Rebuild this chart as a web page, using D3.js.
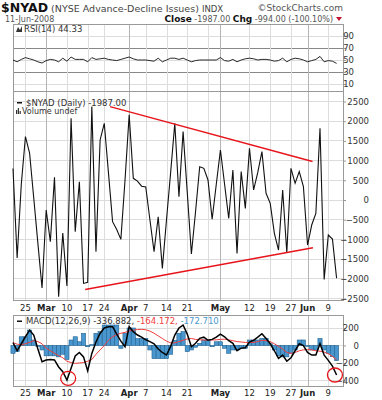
<!DOCTYPE html>
<html><head><meta charset="utf-8">
<script src="https://cdn.jsdelivr.net/npm/d3@7"></script>
<style>body{margin:0;background:#fff}svg{display:block}text{font-family:"DejaVu Sans",Verdana,sans-serif}</style>
</head><body><svg id="c" width="382" height="400"></svg>
<script>
const dates = ["2008-02-20","2008-02-21","2008-02-22","2008-02-25","2008-02-26","2008-02-27","2008-02-28","2008-02-29",
"2008-03-03","2008-03-04","2008-03-05","2008-03-06","2008-03-07","2008-03-10","2008-03-11","2008-03-12","2008-03-13","2008-03-14","2008-03-17","2008-03-18","2008-03-19","2008-03-20","2008-03-24","2008-03-25","2008-03-26","2008-03-27","2008-03-28","2008-03-31",
"2008-04-01","2008-04-02","2008-04-03","2008-04-04","2008-04-07","2008-04-08","2008-04-09","2008-04-10","2008-04-11","2008-04-14","2008-04-15","2008-04-16","2008-04-17","2008-04-18","2008-04-21","2008-04-22","2008-04-23","2008-04-24","2008-04-25","2008-04-28","2008-04-29","2008-04-30",
"2008-05-01","2008-05-02","2008-05-05","2008-05-06","2008-05-07","2008-05-08","2008-05-09","2008-05-12","2008-05-13","2008-05-14","2008-05-15","2008-05-16","2008-05-19","2008-05-20","2008-05-21","2008-05-22","2008-05-23","2008-05-27","2008-05-28","2008-05-29","2008-05-30",
"2008-06-02","2008-06-03","2008-06-04","2008-06-05","2008-06-06","2008-06-09","2008-06-10","2008-06-11"];
const nyad = [800,-1470,400,1610,1190,50,-1100,-2235,-254,-1058,577,-2456,-840,-2184,2075,-805,465,-2117,-2091,2370,-1312,1524,1947,700,-550,-750,-1000,500,2160,550,480,350,330,-500,-1310,-424,-1735,-500,700,1947,84,1735,200,-1372,-300,846,804,508,-490,400,1270,400,-465,762,-1354,720,-212,1313,254,700,1228,170,-85,-846,-1270,254,-1338,804,424,720,338,-1143,-635,-338,1820,-2015,-889,-993,-1987];
const rsi = [50,47,51,54,52,50,47,45,49,51,50,47,53,48,55,51,51,51,47,54,51,52,53,51,50,49,51,53,55,52,50,50,50,49,48,53,47,50,53,53,51,53,50,47,49,50,50,50,50,50,54,49,48,51,47,50,52,53,52,50,51,51,50,48,49,53,47,51,53,52,50,47,49,51,56,47,49,48,44.33];
const macd = [32,-60,20,100,175,120,-40,-185,-166,-160,-165,-245,-300,-394,-261,-120,-80,-130,-290,-90,40,140,200,215,215,130,50,-14,215,158,120,95,65,45,20,-40,-80,-109,-10,120,200,234,130,-14,25,82,95,60,70,95,130,100,55,25,-60,-30,-25,40,60,95,135,80,20,-60,-146,-110,-180,-140,-60,20,0,-80,-109,-109,20,-110,-170,-235,-336.882];
const signal = [32,15,8,20,35,55,45,20,-30,-60,-90,-115,-140,-180,-195,-204,-200,-195,-180,-160,-100,-50,0,60,100,125,140,150,165,175,182,185,180,165,140,110,80,50,30,30,45,60,75,80,70,65,63,62,63,65,70,72,65,55,45,40,35,33,35,45,60,55,45,20,-10,-40,-80,-90,-80,-60,-50,-45,-50,-60,-65,-75,-95,-125,-164.172];
const hist = [-89,-70,100,100,177,63,-10,-51,-118,-118,-118,-130,-100,-160,63,100,43,139,-14,10,139,158,234,234,234,234,-32,139,200,200,80,80,80,-51,-150,-150,-150,-150,-100,60,139,158,-70,-51,-20,25,63,63,-14,43,43,-32,-89,-51,-51,-32,-32,63,63,63,80,80,20,-51,-118,-130,-130,-89,-51,63,63,-10,-51,-51,80,-51,-89,-128,-172.71];
const tickDates = ["2008-02-25","2008-03-03","2008-03-10","2008-03-17","2008-03-24","2008-04-01","2008-04-07","2008-04-14","2008-04-21","2008-05-01","2008-05-12","2008-05-19","2008-05-27","2008-06-02","2008-06-09"];
const tickLabels = ["25","Mar","10","17","24","Apr","7","14","21","May","12","19","27","Jun","9"];
const gridDates = ["2008-02-25","2008-03-03","2008-03-10","2008-03-17","2008-03-24","2008-04-01","2008-04-07","2008-04-14","2008-04-21","2008-04-28","2008-05-01","2008-05-12","2008-05-19","2008-05-27","2008-06-02","2008-06-09"];
const monthDates = ["2008-03-03","2008-04-01","2008-05-01","2008-06-02"];
const nyadTicks = [2500,2000,1500,1000,500,0,-500,-1000,-1500,-2000,-2500];
const rsiTicks = [90,70,50,30,10];
const macdTicks = [200,0,-200,-400];
// trendlines: [date index, value]
const upperTrend = [[23.4,2370],[72.2,975]];
const lowerTrend = [[17.4,-2270],[72.3,-1210]];
// annotation circles on MACD: [date index, value]
const circles = [[13.3,-375],[77.6,-337]];

const svg = d3.select("#c");
const L = 13, R = 343;
const x = d3.scalePoint().domain(dates).range([13, 336.6]);
const xi = d3.scaleLinear().domain([0, dates.length-1]).range([13, 336.6]);

const P = {
  rsi: {top:24, bot:91, y:d3.scaleLinear().domain([0,100]).range([90,30])},
  main:{top:91, bot:300, y:d3.scaleLinear().domain([0,2500]).range([200,101.5])},
  macd:{top:315, bot:386, y:d3.scaleLinear().domain([0,200]).range([345.5,328])}
};

function panelGrid(p, ticks, darkTicks) {
  const g = svg.append("g");
  g.selectAll("line.h").data(ticks).join("line")
    .attr("x1",L).attr("x2",R).attr("y1",d=>p.y(d)).attr("y2",d=>p.y(d))
    .attr("stroke", d=> darkTicks && darkTicks.includes(d) ? "#888" : "#dcdcdc").attr("stroke-width",1)
    .attr("shape-rendering","crispEdges");
  g.selectAll("line.v").data(gridDates).join("line")
    .attr("x1",d=>Math.round(x(d))+0.5).attr("x2",d=>Math.round(x(d))+0.5).attr("y1",p.top).attr("y2",p.bot)
    .attr("stroke", d=> monthDates.includes(d) ? "#b4b4b4" : "#dcdcdc").attr("stroke-width",1);
  svg.append("rect").attr("x",L+0.5).attr("y",p.top+0.5).attr("width",R-L).attr("height",p.bot-p.top)
    .attr("fill","none").attr("stroke","#999").attr("stroke-width",1);
}
panelGrid(P.rsi, rsiTicks, [70,30]);
panelGrid(P.main, nyadTicks, null);
panelGrid(P.macd, macdTicks, null);

function rightAxis(p, ticks, endX) {
  const g = svg.append("g").attr("transform",`translate(${R},0)`);
  const ax = d3.axisRight(p.y).tickValues(ticks).tickSize(3).tickPadding(2).tickFormat(d3.format("d"));
  g.call(ax);
  g.select(".domain").remove();
  g.selectAll(".tick line").attr("stroke","#999");
  g.selectAll(".tick text").attr("x", endX - R).attr("text-anchor","end")
    .style("font-size","8.5px").attr("fill","#333").style("font-family","DejaVu Sans, sans-serif");
}
rightAxis(P.rsi, rsiTicks, 354);
rightAxis(P.main, nyadTicks, 369);
rightAxis(P.macd, macdTicks, 359);

function xLabels(yy) {
  svg.append("g").selectAll("text").data(tickDates).join("text")
    .attr("x",d=>x(d)).attr("y",yy).attr("text-anchor","middle")
    .style("font-size","8.5px").style("font-weight",(d,i)=>isNaN(+tickLabels[i])?"bold":"normal")
    .attr("fill","#222").text((d,i)=>tickLabels[i]);
}
xLabels(311);
xLabels(396);

svg.append("path").datum(rsi).attr("fill","none").attr("stroke","#111").attr("stroke-width",0.9)
  .attr("d", d3.line().x((d,i)=>x(dates[i])).y(d=>P.rsi.y(d)));

svg.append("path").datum(nyad).attr("fill","none").attr("stroke","#111").attr("stroke-width",1.1)
  .attr("d", d3.line().x((d,i)=>x(dates[i])).y(d=>P.main.y(d)));

[upperTrend, lowerTrend].forEach(t=>{
  svg.append("path").datum(t).attr("fill","none").attr("stroke","#e8141b").attr("stroke-width",1.5)
    .attr("d", d3.line().x(d=>xi(d[0])).y(d=>P.main.y(d[1])));
});

const bw = x.step();
svg.append("g").selectAll("rect").data(hist).join("rect")
  .attr("x",(d,i)=>x(dates[i]) - bw/2).attr("width",bw)
  .attr("y",d=>Math.min(P.macd.y(d),P.macd.y(0))).attr("height",d=>Math.abs(P.macd.y(d)-P.macd.y(0)))
  .attr("fill","#4a97cf").attr("stroke","#22628f").attr("stroke-width",0.6);
svg.append("path").datum(signal).attr("fill","none").attr("stroke","#f03c3c").attr("stroke-width",1)
  .attr("d", d3.line().x((d,i)=>x(dates[i])).y(d=>P.macd.y(d)));
svg.append("path").datum(macd).attr("fill","none").attr("stroke","#000").attr("stroke-width",1.5)
  .attr("d", d3.line().x((d,i)=>x(dates[i])).y(d=>P.macd.y(d)));
svg.append("g").selectAll("ellipse").data(circles).join("ellipse")
  .attr("cx",d=>xi(d[0])).attr("cy",d=>P.macd.y(d[1])).attr("rx",7.5).attr("ry",7)
  .attr("fill","none").attr("stroke","#e8141b").attr("stroke-width",1.3);

// header
const h = svg.append("g");
const t1 = h.append("text").attr("x",1).attr("y",12);
t1.append("tspan").text("$NYAD").style("font-weight","bold").style("font-size","12.5px").attr("fill","#111");
t1.append("tspan").text(" (NYSE Advance-Decline Issues) ").style("font-size","9.5px").attr("fill","#444");
t1.append("tspan").text("INDX").style("font-size","8.5px").attr("fill","#444");
h.append("text").attr("x",R).attr("y",11).attr("text-anchor","end").style("font-size","9px").attr("fill","#555").text("\u00A9StockCharts.com");
h.append("text").attr("x",5).attr("y",22).style("font-size","8px").attr("fill","#555").text("11-Jun-2008");
const t2 = h.append("text").attr("x",R-10).attr("y",22).attr("text-anchor","end").style("font-size","8px");
t2.append("tspan").text("Close").style("font-weight","bold").attr("fill","#111").style("font-size","9px");
t2.append("tspan").text(" -1987.00  ").attr("fill","#555");
t2.append("tspan").text("Chg").style("font-weight","bold").attr("fill","#111").style("font-size","9px");
t2.append("tspan").text(" -994.00 (-100.10%)").attr("fill","#555");
h.append("path").attr("d",`M${R-7},17 L${R-1},17 L${R-4},21 Z`).attr("fill","#c0142c");

h.append("path").attr("d","M16,32 L18,27 L20,30 L22,26 L22,32 Z").attr("fill","#333");
h.append("text").attr("x",24).attr("y",32).style("font-size","8.5px").attr("fill","#333").text("RSI(14) 44.33");
h.append("rect").attr("x",17).attr("y",102).attr("width",5).attr("height",1.5).attr("fill","#111");
h.append("text").attr("x",26).attr("y",105.5).style("font-size","8.5px").attr("fill","#333").text("$NYAD (Daily) -1987.00");
h.append("path").attr("d","M16,114 v-4 h1.2 v4 h0.6 v-6 h1.2 v6 h0.6 v-3 h1.2 v3 Z").attr("fill","#333");
h.append("text").attr("x",22).attr("y",114).style("font-size","8px").attr("fill","#333").text("Volume undef");
h.append("rect").attr("x",17).attr("y",320.5).attr("width",5).attr("height",1.5).attr("fill","#111");
const t3 = h.append("text").attr("x",26).attr("y",324).style("font-size","8.5px");
t3.append("tspan").text("MACD(12,26,9) -336.882,").attr("fill","#333");
t3.append("tspan").text(" -164.172,").attr("fill","#f03c3c");
t3.append("tspan").text(" -172.710").attr("fill","#4a97cf");
</script></body></html>
